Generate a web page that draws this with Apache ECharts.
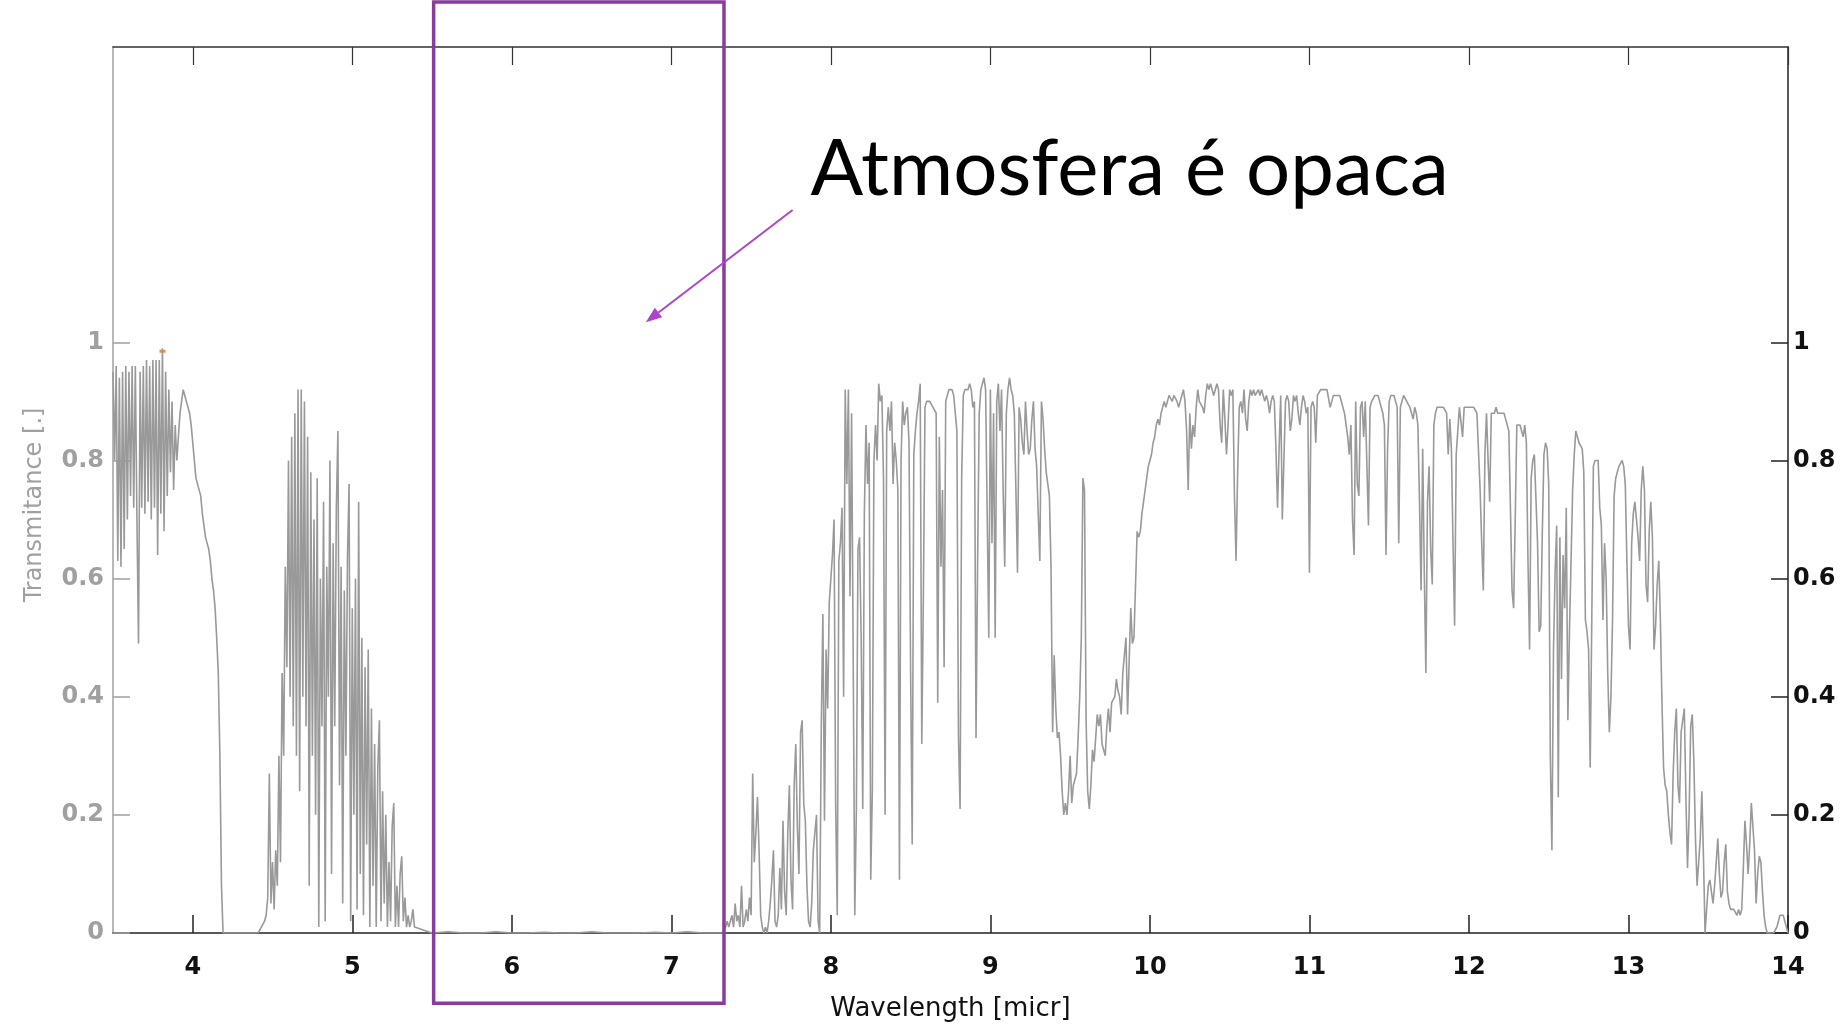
<!DOCTYPE html>
<html>
<head>
<meta charset="utf-8">
<title>Transmitance</title>
<script src="https://cdn.jsdelivr.net/npm/echarts@6/dist/echarts.min.js"></script>
<style>
  html, body { margin: 0; padding: 0; background: #fff; }
  #chart { width: 1847px; height: 1026px; }
</style>
</head>
<body>
<div id="chart"></div>
<script>
const step = 0.01

const mwir1Start = 3.5
const mwir1 = [
  95, 80, 96, 63, 94, 62, 95, 65, 96, 70,
  95, 74, 96, 72, 96, 70, 49, 95, 72, 96,
  71, 97, 73, 96, 70, 97, 72, 97, 64, 97,
  71, 99, 68, 95, 74, 92, 78, 90, 75, 86,
  80, 84, 88, 90, 92, 91, 90, 89, 88, 86,
  83, 80, 77, 76, 76, 74, 71, 69, 67, 66,
  65, 63, 60, 58, 55, 50, 44, 30, 8, 0,
  0, 0, 0, 0, 0, 0, 0, 0, 0, 0,
  0, 0, 0, 0, 0, 0, 0, 0, 0, 0
]

const mwir2Start = 4.4
const mwir2 = [
  0, 0, 0, 1, 1, 2, 3, 6, 27, 5,
  12, 4, 14, 8, 30, 12, 44, 30, 62, 45,
  80, 40, 84, 35, 88, 30, 92, 24, 92, 40,
  90, 35, 84, 8, 78, 30, 70, 20, 77, 1,
  60, 35, 73, 2, 62, 40, 80, 10, 66, 35,
  72, 85, 25, 62, 5, 58, 30, 64, 76, 2,
  55, 20, 60, 4, 73, 10, 50, 3, 45, 15,
  48, 1, 38, 8, 32, 1, 28, 36, 2, 24,
  5, 20, 1, 12, 2, 18, 22, 1, 8, 1,
  10, 13, 2, 6, 1, 3, 1, 2, 4, 1,
  1
]

// opaque window, coarser sampling (0.1 micron)
const opaqueStart = 5.5
const opaqueStep = 0.1
const opaque = [0, 0.2, 0, 0, 0.2, 0, 0, 0.1, 0, 0, 0.2, 0, 0, 0, 0.1, 0, 0.2, 0]

const lwir1Start = 7.3
const lwir1 = [
  0, 0, 0, 0, 1, 2, 1, 1, 3, 1,
  5, 2, 3, 1, 8, 1, 2, 4, 2, 6,
  3, 27, 12, 17, 23, 14, 3, 1, 0, 1,
  0, 2, 5, 9, 14, 2, 1, 3, 11, 4,
  19, 7, 3, 17, 25, 9, 4, 25, 32, 18,
  10, 34, 36, 22, 19, 8, 2, 1, 5, 14,
  17, 20, 2, 0, 35, 54, 19, 48, 38, 56,
  60, 64, 70, 22, 3, 63, 66, 72, 40, 92,
  76, 92, 57, 88, 47, 3, 21, 65, 67, 50,
  21, 71, 86, 76, 83, 9, 24, 80, 86, 80,
  93, 90, 91, 77, 20, 85, 89, 85, 90, 76,
  83, 80, 75, 9, 80, 90, 86, 88, 89, 83,
  44, 15, 81, 85, 88, 90, 93, 32, 57, 89,
  90, 90, 90, 90, 89, 89, 88, 39, 84, 62,
  75, 45, 90, 91, 92, 92, 92, 91, 88, 85,
  33, 21, 77, 91, 92, 92, 92, 93, 92, 89,
  90, 33, 63, 88, 92, 93, 94, 92, 92, 50
]

const lwir2Start = 9.0
const lwir2 = [
  92, 66, 88, 50, 90, 93, 85, 92, 75, 62,
  88, 92, 94, 92, 91, 88, 75, 61, 89, 87,
  83, 81, 90, 85, 81, 82, 87, 90, 82, 79,
  71, 63, 90, 87, 82, 78, 76, 74, 62, 34,
  47, 38, 33, 34, 30, 24, 20, 22, 20, 24,
  30, 22, 25, 26, 27, 33, 40, 50, 77, 75,
  36, 24, 21, 25, 31, 29, 33, 37, 35, 37,
  32, 32, 30, 35, 38, 34, 39, 39, 40, 43,
  41, 40, 37, 44, 47, 50, 37, 46, 55, 49,
  50, 59, 68, 67, 68, 71, 73, 75, 77, 79,
  80, 81, 83, 84, 86, 87, 86, 88, 89, 90,
  89, 90, 91, 91, 90, 91, 91, 90, 89, 90,
  91, 92, 90, 85, 75, 88, 82, 86, 84, 89,
  92, 90, 90, 89, 88, 91, 93, 92, 93, 92,
  91, 91, 93, 92, 86, 83, 92, 87, 81, 86,
  92, 91, 92, 74, 63, 78, 89, 90, 88, 92,
  87, 85, 90, 92, 91, 92, 91, 91, 92, 91,
  92, 91, 90, 91, 90, 88, 90, 91, 90, 82,
  72, 82, 91, 70, 80, 90, 91
]

const lwir3Start = 10.87
const lwir3 = [
  90, 85, 87, 91, 90, 91, 88, 86, 89, 91,
  90, 88, 89, 61, 89, 90, 89, 83, 91, 91,
  92, 92, 92, 92, 92, 92, 89, 90, 91, 91,
  91, 91, 91, 90, 90, 88, 86, 84, 81, 86,
  70, 64, 90, 76, 74, 89, 90, 84, 90, 90,
  69, 89, 90, 90, 91, 91, 91, 90, 90, 88,
  86, 64, 82, 90, 91, 91, 91, 90, 89, 66,
  89, 90, 91, 91, 90, 90, 89, 88, 87, 89,
  88, 86, 73, 58, 82, 61, 44, 73, 79, 65,
  59, 86, 88, 89, 89, 89, 89, 89, 89, 88,
  81, 87, 82, 66, 52, 81, 85, 89, 89, 84,
  89, 89, 89, 89, 89, 89, 89, 89, 88, 88,
  75, 66, 58, 81, 88, 80, 73, 88, 88, 88,
  89, 88, 88, 88, 88, 88, 87, 87, 85, 72,
  58, 55, 70, 86, 86, 86, 85, 84, 86, 83,
  63, 48, 77, 80, 81, 81, 66, 51, 52, 68,
  81, 83, 82, 76, 30, 14, 48, 61, 69, 23,
  67, 43, 64, 55, 72, 36, 51, 63, 75, 81,
  85
]

const lwir4Start = 12.68
const lwir4 = [
  84, 83, 83, 82, 78, 53, 51, 48, 28, 53,
  79, 80, 80, 80, 72, 69, 53, 66, 60, 44,
  34, 40, 53, 74, 77, 78, 79, 79, 80, 79,
  76, 63, 52, 48, 66, 71, 73, 70, 67, 63,
  75, 79, 75, 59, 56, 68, 73, 67, 48, 52,
  59, 63, 53, 39, 28, 25, 24, 20, 17, 15,
  27, 34, 38, 25, 22, 34, 36, 38, 23, 11,
  20, 35, 37, 29, 16, 8, 8, 16, 24, 13,
  0, 4, 8, 9, 7, 5, 8, 12, 16, 10,
  6, 7, 12, 15, 7, 5, 4, 4, 4, 4,
  3, 4, 3, 4, 11, 19, 15, 10, 15, 22,
  22, 14, 5, 10, 13, 12, 7, 3, 1, 0,
  0, 0, 0, 0, 0, 1, 2, 3, 3, 3,
  2, 1, 0
]

const xTicks = [4, 5, 6, 7, 8, 9, 10, 11, 12, 13, 14]
const yTicks = [0, 0.2, 0.4, 0.6, 0.8, 1]

// annotation, in data units
const noteText = 'Atmosfera é opaca'
const notePos = [7.873, 1.248]
const boxFrom = [5.51, 1.576]
const boxTo = [7.33, -0.119]
const arrowFrom = [7.76, 1.224]
const arrowTo = [6.84, 1.034]
const peakDot = [3.81, 0.985]

function toPoints(start, dx, values) {
  return values.map((v, i) => [+(start + i * dx).toFixed(2), v / 100])
}

const spectrum = [].concat(
  toPoints(mwir1Start, step, mwir1),
  toPoints(mwir2Start, step, mwir2),
  toPoints(opaqueStart, opaqueStep, opaque),
  toPoints(lwir1Start, step, lwir1),
  toPoints(lwir2Start, step, lwir2),
  toPoints(lwir3Start, step, lwir3),
  toPoints(lwir4Start, step, lwir4)
)

const chart = echarts.init(document.getElementById('chart'))

const labelFont = {
  fontFamily: 'DejaVu Sans',
  fontWeight: 'bold',
  fontSize: 24
}

chart.setOption({
  animation: false,
  backgroundColor: '#fff',
  grid: {
    left: 113,
    right: 59,
    top: 47,
    bottom: 93,
    outerBoundsMode: 'none'
  },
  xAxis: [
    {
      type: 'value',
      min: 3.5,
      max: 14,
      position: 'bottom',
      name: 'Wavelength [micr]',
      nameLocation: 'middle',
      nameGap: 63,
      nameTextStyle: { fontFamily: 'DejaVu Sans', fontSize: 26, color: '#111' },
      axisLine: { show: true, onZero: false, lineStyle: { color: '#222', width: 1.5 } },
      axisTick: { show: true, inside: true, length: 18, customValues: xTicks, lineStyle: { color: '#222', width: 1.5 } },
      axisLabel: Object.assign({ customValues: xTicks, margin: 23, color: '#111' }, labelFont),
      splitLine: { show: false }
    },
    {
      type: 'value',
      min: 3.5,
      max: 14,
      position: 'top',
      axisLine: { show: true, onZero: false, lineStyle: { color: '#333', width: 1.5 } },
      axisTick: { show: true, inside: true, length: 18, customValues: xTicks, lineStyle: { color: '#333', width: 1.2 } },
      axisLabel: { show: false },
      splitLine: { show: false }
    }
  ],
  yAxis: [
    {
      type: 'value',
      min: 0,
      max: 1.5,
      position: 'left',
      name: 'Transmitance [.]',
      nameLocation: 'middle',
      nameGap: 66,
      nameTextStyle: { fontFamily: 'DejaVu Sans', fontSize: 24, color: '#a0a0a0', padding: [0, 30, 0, 0] },
      axisLine: { show: true, onZero: false, lineStyle: { color: '#a0a0a0', width: 1.5 } },
      axisTick: { show: true, inside: true, length: 17, customValues: yTicks, lineStyle: { color: '#a0a0a0', width: 1.5 } },
      axisLabel: Object.assign({ customValues: yTicks, margin: 9, color: '#a0a0a0' }, labelFont),
      splitLine: { show: false }
    },
    {
      type: 'value',
      min: 0,
      max: 1.5,
      position: 'right',
      axisLine: { show: true, onZero: false, lineStyle: { color: '#222', width: 1.5 } },
      axisTick: { show: true, inside: true, length: 17, customValues: yTicks, lineStyle: { color: '#222', width: 1.5 } },
      axisLabel: Object.assign({ customValues: yTicks, margin: 5, color: '#111' }, labelFont),
      splitLine: { show: false }
    }
  ],
  series: [
    {
      name: 'Transmitance',
      type: 'line',
      data: spectrum,
      showSymbol: false,
      symbol: 'none',
      lineStyle: { color: '#999999', width: 1.6 },
      emphasis: { disabled: true }
    },
    {
      type: 'scatter',
      data: [peakDot],
      symbol: 'rect',
      symbolSize: [6, 3],
      itemStyle: { color: '#ff6a00' }
    }
  ]
})

// purple box, arrow and caption placed from data coordinates
const toPx = p => chart.convertToPixel({ seriesIndex: 0 }, p)
const b1 = toPx(boxFrom)
const b2 = toPx(boxTo)
const a1 = toPx(arrowFrom)
const a2 = toPx(arrowTo)
const t = toPx(notePos)

const dx = a2[0] - a1[0]
const dy = a2[1] - a1[1]
const len = Math.sqrt(dx * dx + dy * dy)
const ux = dx / len
const uy = dy / len
const headLen = 16
const headHalf = 6
const baseX = a2[0] - ux * headLen
const baseY = a2[1] - uy * headLen

chart.setOption({
  graphic: [
    {
      type: 'rect',
      shape: { x: b1[0], y: b1[1], width: b2[0] - b1[0], height: b2[1] - b1[1] },
      style: { fill: null, stroke: '#8b3a9e', lineWidth: 3.5 },
      z: 100
    },
    {
      type: 'line',
      shape: { x1: a1[0], y1: a1[1], x2: baseX, y2: baseY },
      style: { stroke: '#ad45cc', lineWidth: 2 },
      z: 100
    },
    {
      type: 'polygon',
      shape: {
        points: [
          [a2[0], a2[1]],
          [baseX - uy * headHalf, baseY + ux * headHalf],
          [baseX + uy * headHalf, baseY - ux * headHalf]
        ]
      },
      style: { fill: '#ad45cc' },
      z: 100
    },
    {
      type: 'text',
      x: t[0],
      y: t[1] - 26,
      style: {
        text: noteText,
        font: '78px Lato',
        fill: '#000',
        align: 'left',
        verticalAlign: 'middle'
      },
      z: 100
    }
  ]
})
</script>
</body>
</html>
